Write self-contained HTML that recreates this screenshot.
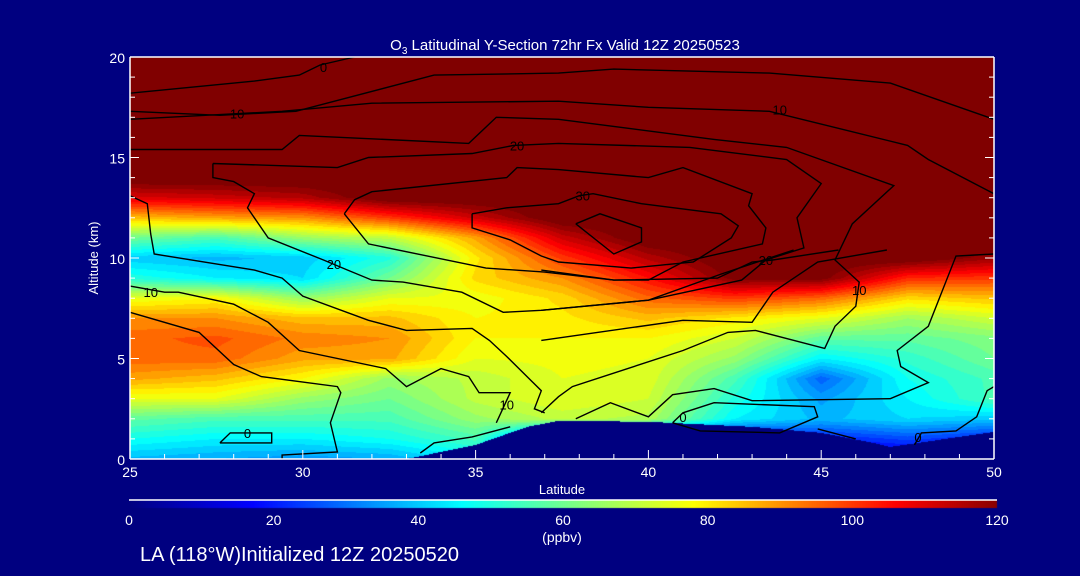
<!DOCTYPE html>
<html><head><meta charset="utf-8"><style>
body{margin:0;background:#000080;width:1080px;height:576px;overflow:hidden;font-family:"Liberation Sans",sans-serif;}
#wrap{position:relative;width:1080px;height:576px;}
canvas{position:absolute;left:0;top:0;}
svg{position:absolute;left:0;top:0;}
</style></head><body>
<div id="wrap">
<canvas id="cv" width="1080" height="576"></canvas>
<svg id="sv" width="1080" height="576"></svg>
</div>
<script>
// ---- data ----
const lats = [25,27.5,30,32.5,35,37.5,40,42.5,45,47.5,50];
const alts = [0,1,2,3,4,5,6,7,8,9,10,11,12,13,14,15,16,17,18,19,20];
const ozone = [
[38,36,34,36,45,10,10,10,10,10,10],
[48,45,45,48,55,15,15,15,20,25,20],
[58,55,55,55,65,70,68,45,38,42,40],
[75,75,65,60,70,75,72,50,35,45,55],
[88,85,78,65,70,75,74,55,28,48,55],
[95,95,88,88,75,76,75,65,45,52,60],
[95,97,92,90,78,78,78,72,58,58,62],
[90,90,85,85,78,80,85,80,75,66,72],
[75,78,65,75,76,82,95,100,95,82,85],
[50,45,42,60,82,90,105,122,122,102,100],
[40,38,40,50,80,100,115,125,125,125,118],
[60,55,65,70,88,112,125,125,125,125,125],
[85,88,90,100,112,125,125,125,125,125,125],
[110,112,115,125,125,125,125,125,125,125,125],
[125,125,125,125,125,125,125,125,125,125,125],
[125,125,125,125,125,125,125,125,125,125,125],
[125,125,125,125,125,125,125,125,125,125,125],
[125,125,125,125,125,125,125,125,125,125,125],
[125,125,125,125,125,125,125,125,125,125,125],
[125,125,125,125,125,125,125,125,125,125,125],
[125,125,125,125,125,125,125,125,125,125,125]];
const terrainLat = [25,33,35,36.5,37.4,40,43,45,46.5,47,48,50];
const terrainAlt = [0,0,0.7,1.6,1.9,1.85,1.6,1.3,0.8,0.6,0.85,1.35];
const contours = [
[[25,18.2],[28.6,18.8],[29.9,19.1],[30.5,19.6],[31.5,20]],
[[25,17.3],[27.6,17.1],[29.8,17.3],[33.8,19.1],[37.4,19.2],[39,19.4],[43.5,19.2],[47,18.7],[50,16.9]],
[[25,16.9],[29.4,17.3],[32,17.7],[37.4,17.8],[40,17.5],[43.5,17.3],[47.5,15.6],[48.1,14.9],[50,13.2]],
[[25,15.4],[29.4,15.4],[29.9,16.1],[34.8,15.7],[35.6,17],[37.4,16.9],[41.9,15.9],[44,15.5],[47.1,13.6],[45.9,11.7],[45.4,9.9],[46.1,8.8],[46,7.6],[45.4,6.6],[45.1,5.5],[43.1,6.4],[42.3,6.3],[41,5.4],[37.8,3.6],[37.4,3.1],[36.9,2.3]],
[[27.4,14.7],[31,14.5],[31.9,15],[34.9,15.2],[36.1,15.6],[37.4,15.7],[41.2,15.5],[44,14.9],[45,13.7],[44.3,12],[44.5,10.5],[43.4,9.9],[42.7,8.9],[40,7.9],[36.9,7.4],[35.8,7.3],[34.6,8.3],[32.9,8.8],[32,8.9],[31.3,9.4],[30.6,9.9],[29,11],[28.4,12.5],[28.6,13.2],[28,13.8],[27.4,14],[27.4,14.7]],
[[31.2,12.2],[31.5,12.9],[32,13.3],[35.9,14],[36.2,14.5],[37.4,14.4],[40,14],[41,14.5],[43,13.2],[42.9,12.6],[43.4,11.5],[43.3,10.7],[41,9.8],[40,8.9],[39,8.9],[37,9.3],[35.3,9.5],[31.9,10.7],[31.2,12.2]],
[[34.9,12.2],[35.9,12.5],[37.4,12.7],[38,13.1],[38.4,13.2],[39.8,12.7],[42.1,12.2],[42.6,11.6],[42.4,11],[41.3,9.8],[39.5,9.5],[37.4,9.8],[36.9,10.1],[36,10.9],[34.9,11.5],[34.9,12.2]],
[[37.9,11.7],[38.6,12.2],[39.8,11.5],[39.8,10.8],[39,10.2],[37.9,11.7]],
[[25,13.1],[25.5,12.7],[25.6,11.2],[25.7,10.2],[28.6,9.4],[29.4,9],[30,8.1],[31.9,6.9],[33,6.4],[34.9,6.5],[35.4,5.9],[35.9,5.1],[36.9,3.4],[36.7,2.5],[37,2.3]],
[[25,8.6],[26,8.3],[26.4,8.3],[28,7.7],[29,6.8],[29.9,5.4],[32.4,4.5],[33,3.6],[34,4.5],[34.8,4.1],[35.1,3.3],[36,3.3],[35.6,1.8]],
[[25,7.3],[27,6.3],[28,4.7],[28.8,4.1],[31,3.6],[31.1,3.3],[30.8,1.8],[31,0.35],[29.4,0.2],[29.4,0]],
[[27.6,0.8],[27.9,1.3],[29.1,1.3],[29.1,0.8],[27.6,0.8]],
[[33.4,0.3],[33.8,0.8],[34.9,1.1],[36,1.6]],
[[36.9,9.4],[39,8.9],[42,9],[43,9.8],[43.6,9.9],[45.5,10.4]],
[[36.9,7.4],[40,7.9],[42.1,9.2],[44.2,10.4]],
[[36.9,5.9],[41,6.9],[43,6.8],[43.6,8.3],[44.9,9.8],[46.9,10.4]],
[[37.9,2],[38.9,2.8],[40,2.1],[40.7,3.2],[41.9,3.5],[43,2.9],[47,3],[48.1,3.8],[47.3,4.6],[47.2,5.4],[48.1,6.6],[48.9,10.1],[50,10.2]],
[[40.7,1.8],[41,2.3],[41.9,2.8],[44.8,2.6],[44.9,2.1],[43.8,1.3],[41.5,1.4],[40.7,1.8]],
[[47.7,0.7],[47.9,1.3],[48.9,1.4],[49.5,2.1],[49.8,3.4],[50,3.6]],
[[44.9,1.5],[46,1.0]]];
const contourLabels = [["0",30.6,19.5],["10",28.1,17.2],["10",43.8,17.4],["20",36.2,15.6],["20",30.9,9.7],["20",43.4,9.9],["30",38.1,13.1],["10",25.6,8.3],["10",35.9,2.7],["10",46.1,8.4],["0",28.4,1.3],["0",41.0,2.1],["0",47.8,1.1]];
const xTicks = [25,30,35,40,45,50];
const yTicks = [0,5,10,15,20];
const cbTicks = [0,20,40,60,80,100,120];

// ---- axes ----
const X0=130,X1=994,Y0=459,Y1=57;
function xS(l){return X0+(l-25)/25*(X1-X0);}
function yS(a){return Y0-a/20*(Y0-Y1);}
function xInv(p){return 25+(p-X0)/(X1-X0)*25;}
function yInv(p){return (Y0-p)/(Y0-Y1)*20;}
const cbX0=129,cbX1=997;
function cS(v){return cbX0+v/120*(cbX1-cbX0);}

function jet(v){
  const st=[[0,0,0,128],[17,0,0,255],[46,0,255,255],[62,128,255,128],[78,255,255,0],[106,255,0,0],[121,128,0,0]];
  if(v<=st[0][0])return st[0].slice(1);
  for(let i=1;i<st.length;i++){if(v<=st[i][0]){const a=st[i-1],b=st[i],t=(v-a[0])/(b[0]-a[0]);return [0,1,2].map(k=>Math.round(a[k+1]+(b[k+1]-a[k+1])*t));}}
  return st[st.length-1].slice(1);
}
function interp1(xs,ys,x){for(let i=1;i<xs.length;i++){if(x<=xs[i]){const t=(x-xs[i-1])/(xs[i]-xs[i-1]);return ys[i-1]+(ys[i]-ys[i-1])*t;}}return ys[ys.length-1];}
function field(lat,alt){
  let ci=Math.min(lats.length-2,Math.max(0,Math.floor((lat-25)/2.5)));
  let ri=Math.min(alts.length-2,Math.max(0,Math.floor(alt)));
  const tx=Math.min(1,Math.max(0,(lat-lats[ci])/2.5)),ty=Math.min(1,Math.max(0,alt-ri));
  const a=ozone[ri][ci],b=ozone[ri][ci+1],c=ozone[ri+1][ci],d=ozone[ri+1][ci+1];
  return a*(1-tx)*(1-ty)+b*tx*(1-ty)+c*(1-tx)*ty+d*tx*ty;
}
// heatmap
const ctx=document.getElementById('cv').getContext('2d');
const img=ctx.createImageData(X1-X0,Y0-Y1);
for(let py=0;py<Y0-Y1;py++){for(let px=0;px<X1-X0;px++){
  const lat=xInv(X0+px+0.5),alt=yInv(Y1+py+0.5);
  let col;
  if(alt<interp1(terrainLat,terrainAlt,lat)) col=[0,0,128];
  else{let v=field(lat,alt);v=Math.floor(v/3)*3+1.5;col=jet(v);}
  const i=(py*(X1-X0)+px)*4;img.data[i]=col[0];img.data[i+1]=col[1];img.data[i+2]=col[2];img.data[i+3]=255;
}}
ctx.putImageData(img,X0,Y1);
// colorbar
for(let x=Math.round(cbX0);x<cbX1;x++){const v=(x-cbX0)/(cbX1-cbX0)*120;const c=jet(v);ctx.fillStyle=`rgb(${c[0]},${c[1]},${c[2]})`;ctx.fillRect(x,500,1,8);}

const NS='http://www.w3.org/2000/svg';
const sv=document.getElementById('sv');
function mk(tag,attrs,parent){const e=document.createElementNS(NS,tag);for(const k in attrs)e.setAttribute(k,attrs[k]);(parent||sv).appendChild(e);return e;}
// contours
const cg=mk('g',{});


contours.forEach(line=>{
  const p=mk('polyline',{points:line.map(q=>xS(q[0]).toFixed(1)+','+yS(q[1]).toFixed(1)).join(' '),fill:'none',stroke:'#000','stroke-width':1.4},cg);
  
  
});
contourLabels.forEach(l=>{
  const t=mk('text',{x:xS(l[1]),y:yS(l[2])+5,'font-size':13,fill:'#000','text-anchor':'middle'},cg);
  t.textContent=l[0];
  
  
});
// frame
const fr=mk('g',{stroke:'#fff','stroke-width':1.5,fill:'none'});


mk('line',{x1:X0,y1:Y1,x2:X1,y2:Y1},fr);mk('line',{x1:X0,y1:Y0,x2:X1,y2:Y0},fr);
mk('line',{x1:X0,y1:Y1,x2:X0,y2:Y0},fr);mk('line',{x1:X1,y1:Y1,x2:X1,y2:Y0},fr);
for(let l=25;l<=50;l++){const L=(l%5===0)?9:5;mk('line',{x1:xS(l),y1:Y0,x2:xS(l),y2:Y0-L,'stroke-width':1},fr);}
for(let a=0;a<=20;a++){const L=(a%5===0)?9:5;mk('line',{x1:X1,y1:yS(a),x2:X1-L,y2:yS(a),'stroke-width':1},fr);mk('line',{x1:X0,y1:yS(a),x2:X0+L,y2:yS(a),'stroke-width':1},fr);}
mk('line',{x1:cbX0,y1:500,x2:cbX1,y2:500,'stroke-width':1.5},fr);
// tick labels
xTicks.forEach(v=>{const t=mk('text',{x:xS(v),y:477,'font-size':14,fill:'#fff','text-anchor':'middle'});t.textContent=v;

});
yTicks.forEach(v=>{const t=mk('text',{x:125,y:yS(v)+6,'font-size':14,fill:'#fff','text-anchor':'end'});t.textContent=v;

});
cbTicks.forEach(v=>{const t=mk('text',{x:cS(v),y:525,'font-size':14,fill:'#fff','text-anchor':'middle'});t.textContent=v;

});
</script>
<svg width="1080" height="576" style="position:absolute;left:0;top:0">
<text x="565" y="50" font-size="15" fill="#fff" text-anchor="middle">O<tspan font-size="10" dy="4">3</tspan><tspan dy="-4"> Latitudinal Y-Section 72hr  Fx Valid 12Z 20250523</tspan></text>
<text x="562" y="494" font-size="13" fill="#fff" text-anchor="middle">Latitude</text>
<text x="98" y="258" font-size="13" fill="#fff" text-anchor="middle" transform="rotate(-90 98 258)">Altitude (km)</text>
<text x="562" y="542" font-size="14" fill="#fff" text-anchor="middle">(ppbv)</text>
<text x="140" y="561" font-size="20" fill="#fff">LA (118°W)Initialized 12Z 20250520</text>
</svg>
</body></html>
